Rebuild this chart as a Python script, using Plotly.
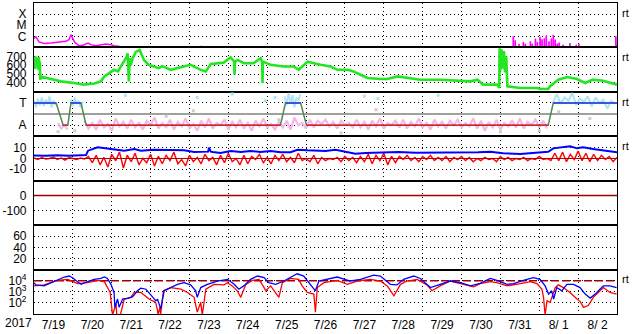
import numpy as np
import plotly.graph_objects as go
from plotly.subplots import make_subplots

# ---------------- data (time in days from 2017-07-19 00:00 UT) ----------------
day_labels = ["7/19", "7/20", "7/21", "7/22", "7/23", "7/24", "7/25", "7/26",
              "7/27", "7/28", "7/29", "7/30", "7/31", "8/ 1", "8/ 2"]
year_label = "2017"

# X-ray flux (log10 W/m2)
xray_t = [0, 0.05, 0.13, 0.26, 0.44, 0.57, 0.69, 0.82, 0.90, 0.95, 1.00, 1.05, 1.16,
          1.26, 1.39, 1.46, 1.59, 1.72, 1.85, 1.98, 2.06, 2.18, 2.23]
xray_v = [-6.2, -6.05, -6.5, -6.65, -6.6, -6.55, -6.55, -6.45, -6.3, -5.85, -6.2, -6.55, -6.85,
          -6.8, -6.6, -6.75, -6.85, -6.8, -6.7, -6.75, -6.85, -6.9, -7.2]
xray_spike_t = [4.29, 4.92, 8.88, 12.33, 12.38, 12.48, 12.59, 12.64, 12.77, 12.82, 12.90, 12.95,
                13.02, 13.07, 13.13, 13.18, 13.25, 13.31, 13.36, 13.41, 13.46, 13.51, 13.61,
                13.79, 13.95, 14.02, 14.97]
xray_spike_v = [-6.85, -6.9, -6.9, -6.0, -6.35, -6.7, -6.52, -6.66, -6.44, -6.66, -6.2, -6.52,
                -6.05, -6.26, -6.18, -5.9, -6.44, -6.2, -5.86, -6.3, -6.66, -6.56, -6.75,
                -6.6, -6.75, -6.66, -6.0]
xray_floor = -7.4

# Solar wind speed (km/s)
speed_t = [0, 0.02, 0.04, 0.06, 0.08, 0.10, 0.12, 0.14, 0.15, 0.16, 0.18, 0.30, 0.44, 0.69,
           1.03, 1.28, 1.55, 1.72, 1.81, 1.93, 2.06, 2.16, 2.29, 2.39, 2.41, 2.44, 2.46, 2.49,
           2.54, 2.62, 2.72, 2.83, 2.95, 3.08, 3.21, 3.30, 3.52, 3.85, 4.03, 4.29, 4.42, 4.55,
           4.88, 5.06, 5.15, 5.16, 5.17, 5.24, 5.40, 5.65, 5.83, 5.87, 5.88, 5.89, 6.09, 6.42,
           6.68, 6.81, 7.04, 7.12, 7.19, 7.37, 7.63, 7.81, 8.07, 8.22, 8.40, 8.58, 8.91, 9.09,
           9.35, 9.68, 9.94, 10.45, 10.97, 11.23, 11.41, 11.56, 11.92, 11.97, 11.98, 12.00,
           12.03, 12.06, 12.09, 12.12, 12.15, 12.17, 12.18, 12.51, 12.95, 13.02, 13.23, 13.28,
           13.49, 13.72, 13.97, 14.18, 14.38, 14.64, 14.82, 15.0]
speed_v = [640, 560, 700, 590, 680, 550, 690, 600, 640, 437, 474, 460, 445, 418,
           400, 381, 393, 418, 474, 511, 548, 530, 622, 700, 733, 418, 680, 600,
           678, 750, 770, 659, 604, 585, 567, 590, 548, 585, 604, 548, 530, 615,
           629, 689, 640, 493, 640, 659, 622, 622, 678, 640, 400, 640, 604, 585,
           585, 548, 640, 630, 622, 604, 585, 548, 548, 530, 493, 456, 445, 445,
           474, 456, 437, 437, 426, 418, 437, 381, 381, 344, 790, 540, 780, 560,
           760, 520, 700, 560, 363, 344, 344, 333, 333, 363,
           437, 467, 445, 400, 437, 426, 400, 381]

# IMF sector (T = +1, A = -1)
sector_t = [0, 0.57, 0.75, 0.87, 0.95, 1.21, 1.34, 6.34, 6.47, 6.86, 7.01, 13.23, 13.36, 15.0]
sector_v = [1, 1, -1, -1, 1, 1, -1, -1, 1, 1, -1, -1, 1, 1]

# IMF direction samples (pink: away side, cyan: toward side)
pink_start, pink_step = 1.3, 0.1
pink_v = [-0.6, -1.3, -0.8, -1.4, -0.5, -1.2, -0.9, -1.5, -0.4, -1.1,
          -0.7, -1.3, -0.5, -1.2, -0.8, -1.4, -0.6, -1.0, -0.3, -1.3,
          -0.8, -1.2, -0.5, -1.4, -0.7, -1.1, -0.4, -1.3, -0.9, -1.5,
          -0.6, -1.2, -0.4, -1.3, -0.8, -1.0, -0.5, -1.4, -0.7, -1.2,
          -0.5, -1.3, -0.8, -1.5, -0.6, -1.1, -0.4, -1.2, -0.9, -1.4,
          -0.7, -1.2, -0.6, -1.4, -0.3, -1.0, -0.8, -1.3, -0.5, -1.2,
          -0.6, -0.9, -0.5, -1.1, -0.7, -1.3, -0.6, -1.0, -0.8, -1.2,
          -0.5, -1.2, -0.7, -1.4, -0.6, -1.1, -0.4, -1.3, -0.8, -1.0,
          -0.6, -1.2, -0.5, -1.3, -0.7, -1.1, -0.4, -1.2, -0.8, -1.4,
          -0.5, -1.1, -0.7, -1.3, -0.6, -1.0, -0.5, -1.2, -0.8, -1.1,
          -0.4, -1.3, -0.6, -1.5, -0.7, -1.2, -0.5, -1.4, -0.8, -1.1,
          -0.6, -1.2, -0.4, -1.3, -0.7, -1.0, -0.5, -1.2, -0.6, -1.3]
pink_early_t = [0.62, 0.70, 0.78, 0.86]
pink_early_v = [-0.8, -1.3, -1.0, -1.4]
cyan_blocks = [  # (start day, step, values)
    (0.0, 0.05, [1.2, 0.6, 1.4, 0.8, 1.5, 0.7, 1.3, 0.9, 1.6, 0.6, 1.2, 0.8]),
    (0.95, 0.05, [1.3, 0.7, 1.5, 0.9, 1.2, 0.6, 1.1]),
    (6.45, 0.05, [1.6, 0.8, 1.9, 1.0, 1.7, 0.6, 1.5, 1.2, 1.8]),
    (13.35, 0.1, [1.0, 1.8, 0.9, 1.5, 1.2, 1.9, 0.8, 1.4, 1.1, 1.6, 0.7, 1.5, 1.0, 1.3, 0.5, 1.2, 0.9]),
]
cyan_dot_t = [2.35, 4.2, 5.1, 5.95, 6.2, 8.5, 8.85, 10.4]
cyan_dot_v = [1.7, 1.5, 1.8, 1.2, 1.5, 1.6, 1.4, 1.7]
gray_dot_t = [0.62, 1.05, 3.4, 4.1, 6.3, 7.9, 8.8, 12.0, 13.0, 13.5, 14.3]
gray_dot_v = [-1.6, -1.5, -0.2, 0.3, -0.5, -1.7, 0.4, -1.6, -1.5, 0.2, -0.4]

# IMF Bt (blue) and Bz (red), nT
bt_t = [0, 0.3, 0.6, 0.9, 1.2, 1.34, 1.39, 1.64, 1.98, 2.32, 2.58, 2.75, 3.08, 3.44, 3.86,
        4.12, 4.29, 4.48, 4.50, 4.55, 4.60, 4.80, 5.06, 5.32, 5.57, 5.83, 6.09, 6.34, 6.60,
        6.78, 7.04, 7.30, 7.50, 7.76, 8.01, 8.27, 8.53, 8.96, 9.38, 9.81, 10.25, 10.66, 11.10,
        11.43, 11.74, 12.07, 12.51, 12.95, 13.23, 13.36, 13.61, 13.79, 13.97, 14.13, 14.38,
        14.64, 14.90, 15.0]
bt_v = [2.8, 2.5, 3.0, 2.6, 3.0, 3.2, 7.4, 10.6, 9.0, 7.4, 9.0, 7.4, 8.3, 8.3, 7.7,
        6.1, 6.1, 6.5, 10.2, 6.5, 6.1, 5.2, 7.1, 6.1, 7.1, 6.1, 7.0, 6.0, 6.0,
        8.3, 7.7, 7.1, 7.1, 8.3, 6.1, 4.5, 5.2, 5.9, 6.1, 5.5, 5.5, 5.5, 5.8,
        5.9, 6.4, 4.9, 4.3, 5.2, 6.4, 9.6, 10.6, 11.5, 9.6, 10.6, 9.0,
        7.4, 6.4, 5.9]
bz_start, bz_step = 0.0, 0.1
bz_v = [0.5, -1, 1, -0.5, 0, 1.5, -1, 0.5, -1.5, 1, 0, -1, 0.5, -0.5,
        2, -4, 3, -6, 1, -8, 4, -2, 6, -9,
        3, -3, 5, -6, 0, -4, 4, -7, 2, -5,
        3, -2, 6, -5, -1, -7, 3, -3, 1, -5,
        4, -2, 1, -6, 3, -4, 5, -3, 0, -6,
        3, -5, 2, -1, 4, -4, 1, -5, 3, -2,
        4, -3, 1, -4, 5, -2, 0, -3, 3, -5,
        1, -2, 0, -1, 1, -3, 2, -2, 1, -4,
        2, -3, 4, -5, 3, -2, 5, -6, 2, -4,
        2, -1, 3, -2, 1, -3, 2, -1, 3, -2,
        1, -2, 2, -3, 1, -1, 2, -2, 1, -3,
        0, -2, 1, -1, 0, -3, 2, -1, 1, -2,
        0, -1, 1, -2, 0, -1, 2, -1, 0, -2,
        5, -2, 6, -3, 4, -1, 7, -2, 5, -3,
        4, -2, 3, -1, 2, -3, 1]

# Dst reference level, AE-panel placeholder, and electron-flux alert level
dst_ref = 0
panel6_empty = [None]
flux_alert = 1e4

# Electron flux (log10), two channels
flux_b_t = [0, 0.05, 0.26, 0.44, 0.65, 0.78, 0.91, 0.99, 1.12, 1.21, 1.38, 1.55, 1.72, 1.81,
            1.89, 1.98, 2.06, 2.08, 2.15, 2.19, 2.28, 2.41, 2.54, 2.66, 2.75, 2.88, 3.01,
            3.13, 3.18, 3.26, 3.35, 3.43, 3.69, 3.86, 4.03, 4.16, 4.20, 4.29, 4.46, 4.72,
            4.98, 5.15, 5.27, 5.40, 5.57, 5.75, 5.92, 6.04, 6.22, 6.43, 6.77, 6.94, 7.12,
            7.24, 7.33, 7.54, 7.80, 8.14, 8.40, 8.74, 8.91, 9.17, 9.34, 9.51, 9.77, 9.94,
            10.20, 10.45, 10.71, 10.97, 11.23, 11.48, 11.74, 11.91, 12.17, 12.34, 12.59,
            12.85, 13.02, 13.15, 13.24, 13.32, 13.37, 13.45, 13.58, 13.71, 13.88, 14.05,
            14.18, 14.31, 14.44, 14.56, 14.65, 14.82, 14.99]
flux_b_v = [3.82, 3.62, 3.53, 3.82, 4.12, 4.33, 4.42, 4.27, 3.91, 3.67, 3.91, 4.12, 4.2, 4.33,
            4.2, 3.67, 2.94, 1.61, 2.35, 1.6, 2.35, 2.41, 2.56, 3.09, 3.32, 3.23, 2.7,
            2.2, 2.3, 1.46, 3.09, 3.23, 3.67, 3.82, 3.62, 3.09, 2.5, 3.38, 3.67, 3.97,
            4.12, 3.67, 3.23, 3.53, 4.12, 4.42, 4.27, 3.82, 3.67, 3.97, 4.62, 4.42, 3.67,
            3.09, 3.97, 4.12, 4.33, 3.97, 4.12, 4.5, 4.42, 3.67, 3.62, 4.12, 4.42, 4.2,
            3.38, 3.67, 3.97, 3.82, 3.53, 3.75, 4.2, 4.03, 3.67, 3.73, 4.03,
            4.27, 4.12, 3.53, 2.79, 3.09, 2.35, 3.38, 3.09, 3.67, 3.67, 3.38,
            2.79, 2.43, 2.79, 3.23, 3.53, 3.53, 3.38]
flux_r_t = [0, 0.26, 0.61, 0.87, 1.12, 1.38, 1.64, 1.81, 1.89, 1.96, 2.02, 2.11, 2.13, 2.23,
            2.32, 2.49, 2.58, 2.75, 2.96, 3.13, 3.18, 3.19, 3.24, 3.26, 3.33, 3.52, 3.78,
            3.95, 4.12, 4.20, 4.29, 4.33, 4.42, 4.63, 4.89, 4.98, 5.10, 5.23, 5.32, 5.45,
            5.62, 5.79, 5.92, 5.96, 6.09, 6.30, 6.39, 6.60, 6.81, 6.90, 7.03, 7.20, 7.24,
            7.29, 7.46, 7.80, 8.06, 8.31, 8.66, 8.91, 9.09, 9.26, 9.43, 9.60, 9.86, 10.11,
            10.24, 10.45, 10.71, 11.05, 11.31, 11.48, 11.74, 11.91, 12.17, 12.51, 12.77,
            12.94, 13.07, 13.11, 13.15, 13.20, 13.28, 13.41, 13.49, 13.62, 13.79, 13.97,
            14.05, 14.14, 14.26, 14.39, 14.52, 14.65, 14.82, 14.99]
flux_r_v = [3.53, 3.62, 4.03, 4.12, 3.73, 3.82, 4.03, 3.91, 3.38, 2.94, 0.9, 1.9, 0.9, 1.0,
            2.35, 2.5, 2.94, 2.94, 2.35, 2.05, 1.3, 0.9, 1.6, 1.0, 3.09, 3.38, 3.23,
            2.94, 2.5, 1.17, 2.05, 0.9, 3.23, 3.67, 3.62, 3.82, 3.53, 3.09, 2.5, 3.67,
            4.03, 4.12, 3.38, 3.09, 3.53, 2.5, 3.82, 4.2, 4.12, 3.53, 2.94, 2.79, 1.17,
            3.38, 3.82, 4.03, 3.67, 3.97, 4.12, 3.97, 3.53, 2.64, 3.67, 3.97, 4.12, 3.62,
            3.09, 3.53, 3.97, 3.67, 3.44, 3.73, 3.91, 3.82, 3.53, 3.73, 3.91,
            3.73, 3.23, 2.5, 0.9, 2.2, 2.05, 3.38, 3.62, 3.38, 2.94, 2.35,
            2.14, 1.6, 1.76, 2.5, 2.94, 3.38, 2.94, 2.79]

# ---------------- figure ----------------
FONT = "Liberation Sans, Arial, sans-serif"
DOT = "1px,3px"
T_END = len(day_labels)

fig = make_subplots(rows=7, cols=1, shared_xaxes=True, vertical_spacing=0)

def line(x, y, color, width, row, dash=None):
    fig.add_trace(go.Scatter(x=x, y=y, mode="lines",
                             line=dict(color=color, width=width, dash=dash),
                             hoverinfo="skip", showlegend=False), row=row, col=1)

# panel 1: X-ray
line(xray_t, [10 ** v for v in xray_v], "#ff00ff", 1.5, 1)
sx, sy = [], []
for t, v in zip(xray_spike_t, xray_spike_v):
    sx += [t, t, t + 0.012, t + 0.012, None]
    sy += [10 ** xray_floor, 10 ** v, 10 ** v, 10 ** xray_floor, None]
line(sx, sy, "#ff00ff", 1.6, 1)

# panel 2: speed
line(speed_t, speed_v, "#22e622", 2.6, 2)

# panel 3: sector
line([0, T_END], [0, 0], "#808080", 1.5, 3)
pt = [pink_start + pink_step * i for i in range(len(pink_v))]
line(pink_early_t + [None] + pt, pink_early_v + [None] + pink_v, "#f7b5ee", 2.2, 3)
cx, cy = [], []
for start, step, vals in cyan_blocks:
    cx += [start + step * i for i in range(len(vals))] + [None]
    cy += list(vals) + [None]
line(cx, cy, "#aee4f6", 2.0, 3)
fig.add_trace(go.Scatter(x=cyan_dot_t, y=cyan_dot_v, mode="markers",
                         marker=dict(color="#aee4f6", size=3, symbol="square"),
                         hoverinfo="skip", showlegend=False), row=3, col=1)
fig.add_trace(go.Scatter(x=gray_dot_t, y=gray_dot_v, mode="markers",
                         marker=dict(color="#cccccc", size=3, symbol="square"),
                         hoverinfo="skip", showlegend=False), row=3, col=1)
line(sector_t, sector_v, "#4f8a4f", 1.5, 3)
for i in range(len(sector_t) - 1):
    if sector_v[i] == sector_v[i + 1]:
        col = "#2a3cff" if sector_v[i] > 0 else "#e02020"
        line([sector_t[i], sector_t[i + 1]], [sector_v[i], sector_v[i + 1]], col, 1.6, 3)

# panel 4: Bz / Bt
bzt = [bz_start + bz_step * i for i in range(len(bz_v))]
line(bzt, bz_v, "#ff0000", 1.4, 4)
line([0, T_END], [0, 0], "#b00000", 1, 4)
line(bt_t, bt_v, "#0000ff", 2, 4)

# panel 5: Dst reference
line([0, T_END], [dst_ref, dst_ref], "#a00000", 1.5, 5)

# panel 6: no data plotted (keep the empty frame)
line(panel6_empty, panel6_empty, "#000000", 1, 6)

# panel 7: electron flux
line([0, T_END], [flux_alert, flux_alert], "#a00000", 1.5, 7, dash="8px,3px")
line(flux_r_t, [10 ** v for v in flux_r_v], "#ff0000", 1.3, 7)
line(flux_b_t, [10 ** v for v in flux_b_v], "#0000ff", 1.3, 7)

# ---------------- axes ----------------
ycfg = [
    dict(type="log", range=[-7, -3], tickvals=[1e-4, 1e-5, 1e-6], ticktext=["X", "M", "C"]),
    dict(range=[300, 800], tickvals=[400, 500, 600, 700]),
    dict(range=[-2, 2], tickvals=[1, -1], ticktext=["T", "A"]),
    dict(range=[-21, 21], tickvals=[10, 0, -10], ticktext=["10", "0", "-10"]),
    dict(range=[-200, 100], tickvals=[0, -100], ticktext=["0", "-100"]),
    dict(range=[0, 80], tickvals=[20, 40, 60]),
    dict(type="log", range=[1, 5], tickvals=[1e2, 1e3, 1e4],
         ticktext=["10<sup>2</sup>", "10<sup>3</sup>", "10<sup>4</sup>"]),
]
for r, cfg in enumerate(ycfg, start=1):
    fig.update_yaxes(row=r, col=1, showgrid=True, gridcolor="black", griddash=DOT,
                     gridwidth=1, zeroline=False, showline=True, linecolor="black",
                     linewidth=1.2, mirror=True, ticks="outside", ticklen=4,
                     tickcolor="rgba(0,0,0,0)", tickfont=dict(family=FONT, size=12, color="black"),
                     fixedrange=True, **cfg)
    fig.update_xaxes(row=r, col=1, range=[0, T_END], showgrid=False, zeroline=False,
                     showline=True, linecolor="black", linewidth=1, mirror=True,
                     minor=dict(dtick=1, tick0=0, showgrid=True, gridcolor="black",
                                griddash=DOT, gridwidth=1),
                     showticklabels=(r == 7), tickvals=[i + 0.5 for i in range(T_END)],
                     ticktext=day_labels, ticks="", tickfont=dict(family=FONT, size=12, color="black"))

annotations = [dict(text=year_label, x=-0.0274, y=-0.03, xref="paper", yref="paper",
                    xanchor="center", yanchor="middle", showarrow=False,
                    font=dict(family=FONT, size=12, color="black"))]
for ypx in [12, 57, 102, 147, 282]:
    annotations.append(dict(text="rt", x=1, xshift=3, y=(317 - ypx) / 315, xref="paper",
                            yref="paper", xanchor="left", yanchor="middle", showarrow=False,
                            font=dict(family=FONT, size=11, color="black")))

fig.update_layout(width=633, height=334, margin=dict(l=33, r=16, t=2, b=17),
                  plot_bgcolor="white", paper_bgcolor="white", showlegend=False,
                  annotations=annotations, font=dict(family=FONT, size=12, color="black"))

fig.write_html("out.html")
